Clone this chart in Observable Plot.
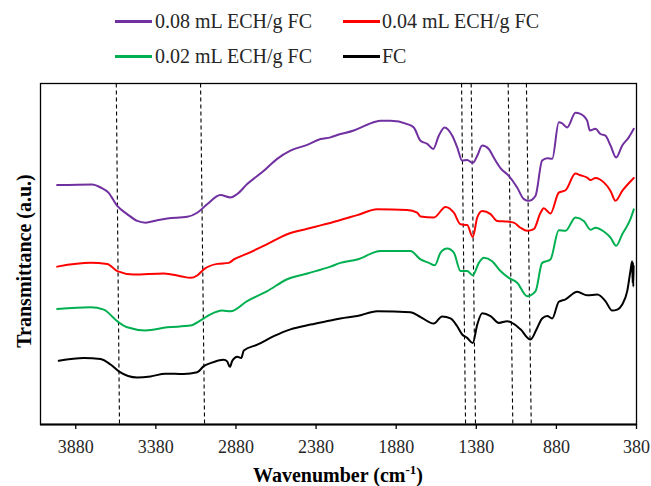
<!DOCTYPE html>
<html><head><meta charset="utf-8">
<script src="https://cdn.jsdelivr.net/npm/d3@7"></script>
<script src="https://cdn.jsdelivr.net/npm/@observablehq/plot@0.6"></script>
<style>
body{margin:0;background:#fff;font-family:'Liberation Serif',serif}
#wrap{position:relative;width:651px}
#legend{position:relative;height:78px;width:651px}
.sw{position:absolute;height:3px;width:37px}
.lb{position:absolute;font-size:20px;line-height:20px;color:#262626;white-space:nowrap}
</style></head>
<body>
<div id="wrap"><div id="legend"></div><div id="chart"></div></div>
<script>
// Wavenumber (cm-1), transmittance (a.u., offset series)
const s008 = [[3996,70.2],[3777,70.4],[3725,69.5],[3676,68.0],[3621,64.1],[3559,61.7],[3496,59.7],[3445,59.2],[3372,59.9],[3309,60.4],[3184,60.9],[3122,62.1],[3060,64.6],[2977,67.3],[2914,66.6],[2872,67.6],[2810,70.5],[2706,74.4],[2623,77.9],[2540,80.3],[2435,82.0],[2352,83.7],[2290,84.2],[2248,84.9],[2145,86.2],[2061,87.9],[1978,89.1],[1915,89.1],[1811,88.1],[1770,87.1],[1728,83.2],[1686,82.3],[1649,80.8],[1614,84.7],[1578,87.1],[1530,84.7],[1499,81.3],[1468,77.4],[1437,77.6],[1402,76.7],[1374,78.8],[1343,81.8],[1302,80.8],[1271,78.3],[1229,75.2],[1177,72.9],[1125,69.5],[1083,66.1],[1052,65.6],[1010,67.1],[969,77.4],[937,78.1],[906,77.9],[865,88.6],[844,88.3],[813,87.1],[761,91.4],[730,91.1],[688,89.1],[671,86.2],[636,86.7],[605,85.2],[574,84.7],[542,81.8],[507,78.3],[469,81.8],[428,84.2],[397,86.7]];
const s004 = [[3996,46.3],[3788,47.4],[3684,47.1],[3621,45.0],[3518,44.0],[3330,44.3],[3226,43.5],[3164,43.0],[3122,43.7],[3081,45.5],[2997,47.1],[2925,47.4],[2893,48.4],[2810,50.1],[2685,52.9],[2560,55.8],[2435,57.4],[2352,58.4],[2248,59.7],[2123,61.4],[1998,63.1],[1811,62.9],[1749,62.1],[1728,61.0],[1645,60.7],[1572,63.8],[1520,62.1],[1478,58.7],[1437,58.5],[1402,55.0],[1374,60.7],[1343,62.6],[1291,61.7],[1250,59.7],[1187,59.5],[1146,59.2],[1104,57.7],[1062,56.8],[1021,57.3],[979,62.1],[959,63.4],[917,61.9],[865,68.0],[823,68.7],[761,73.6],[730,73.1],[688,72.4],[667,71.7],[636,72.3],[584,71.0],[542,68.5],[511,65.6],[469,68.5],[397,72.3]];
const s002 = [[3996,33.9],[3788,34.4],[3705,33.7],[3621,30.3],[3559,28.5],[3445,27.6],[3309,28.5],[3164,29.0],[3101,30.5],[3039,32.3],[2966,33.4],[2914,33.2],[2810,36.2],[2685,39.1],[2560,42.6],[2435,44.3],[2290,46.3],[2228,47.4],[2123,48.4],[1978,50.9],[1791,50.9],[1728,48.4],[1676,47.4],[1639,46.7],[1603,50.4],[1562,51.6],[1520,50.4],[1478,45.0],[1437,45.0],[1402,43.8],[1364,47.4],[1333,48.9],[1281,47.9],[1229,45.0],[1177,43.0],[1125,41.6],[1062,37.6],[1010,39.1],[969,47.4],[917,48.4],[865,57.0],[823,56.8],[761,60.7],[709,59.7],[667,57.1],[636,57.7],[584,56.6],[542,54.8],[507,52.4],[469,55.8],[418,60.2],[397,63.1]];
const sFC = [[3986,18.7],[3830,19.5],[3725,19.2],[3663,17.6],[3611,15.6],[3496,13.8],[3413,14.1],[3320,14.9],[3206,14.8],[3122,15.3],[3081,17.1],[3039,18.0],[2956,19.0],[2935,18.5],[2918,16.9],[2903,18.7],[2872,19.9],[2847,19.5],[2831,21.7],[2747,23.4],[2644,25.9],[2540,27.9],[2415,29.3],[2290,30.5],[2228,31.1],[2123,31.8],[1998,33.2],[1791,32.9],[1728,31.5],[1645,29.6],[1593,31.7],[1541,31.1],[1499,28.8],[1468,26.4],[1437,25.4],[1402,23.9],[1374,29.3],[1343,32.6],[1291,31.8],[1239,29.8],[1187,30.3],[1146,29.5],[1104,27.9],[1042,24.9],[1000,28.3],[969,31.1],[937,31.8],[906,31.1],[865,36.0],[823,36.7],[750,38.9],[688,37.9],[625,38.1],[574,36.2],[532,33.4],[500,33.7],[469,35.2],[438,39.1],[418,45.0],[407,47.9],[404,41.5],[402,47.5],[400,40.5],[398,46.5]];
const seriesNames = ["0.08 mL ECH/g FC","0.04 mL ECH/g FC","0.02 mL ECH/g FC","FC"];
const seriesColors = ["#7030A0","#FF0000","#00B050","#000000"];
const seriesData = [s008, s004, s002, sFC];
// dashed reference lines: wavenumber at top and bottom of the frame
const dashTop = [3627,3101,1472,1412,1181,1067];
const dashBottom = [3607,3076,1447,1385,1152,1037];
const xTicks = [3880,3380,2880,2380,1880,1380,880,380];

// legend
const leg = document.getElementById("legend");
const pos = [[115,155,19.5,11],[343,382,19.5,11],[115,155,54.5,45.7],[343,382,54.5,45.7]];
seriesNames.forEach((n,i)=>{
  const p = pos[i];
  const sw = document.createElement("div"); sw.className="sw";
  sw.style.left=p[0]+"px"; sw.style.top=p[2]+"px"; sw.style.background=seriesColors[i];
  const lb = document.createElement("div"); lb.className="lb";
  lb.style.left=p[1]+"px"; lb.style.top=p[3]+"px"; lb.textContent=n;
  leg.appendChild(sw); leg.appendChild(lb);
});

const dashes = dashTop.map((t,i)=>({top:t,bottom:dashBottom[i]}));
const chart = Plot.plot({
  width:651, height:408, marginTop:5, marginBottom:62, marginLeft:40, marginRight:15,
  style:{fontFamily:"'Liberation Serif', serif", background:"white", color:"#000"},
  x:{domain:[4100,380]},
  y:{domain:[0,100], axis:null},
  marks:[
    Plot.link(dashes,{x1:"top",x2:"bottom",y1:()=>100,y2:()=>0,stroke:"#000",strokeWidth:1.1,strokeDasharray:"4,3"}),
    ...seriesData.map((s,i)=>Plot.line(s,{x:d=>d[0],y:d=>d[1],stroke:seriesColors[i],strokeWidth:2,curve:"monotone-x"})),
    Plot.frame({stroke:"#000",strokeWidth:1.3}),
    Plot.ruleY([0],{stroke:"#000",strokeWidth:2.2}),
    Plot.axisX({ticks:xTicks,tickFormat:d=>String(d),tickSize:5,tickPadding:11,fontSize:18,label:null,strokeWidth:1.3,fill:"#262626"})
  ]
});
document.getElementById("chart").appendChild(chart);
const svg = d3.select(chart);
svg.append("text").attr("transform","translate(31,183) rotate(-90)").attr("text-anchor","middle")
  .attr("font-weight","bold").attr("font-size",20).attr("fill","#000").attr("font-family","'Liberation Serif', serif")
  .text("Transmittance (a.u.)");
const xt = svg.append("text").attr("x",338).attr("y",403.7).attr("text-anchor","middle")
  .attr("font-weight","bold").attr("font-size",20).attr("fill","#000").attr("font-family","'Liberation Serif', serif");
xt.append("tspan").text("Wavenumber (cm");
xt.append("tspan").attr("font-size",13).attr("dy",-8).text("-1");
xt.append("tspan").attr("dy",8).text(")");
</script>
</body></html>
